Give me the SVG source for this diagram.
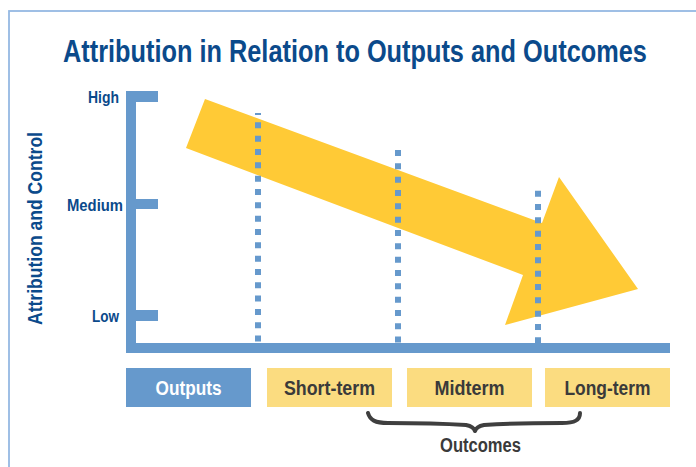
<svg xmlns="http://www.w3.org/2000/svg" width="696" height="467" viewBox="0 0 696 467">
  <style>
    .t { font-family: "Liberation Sans", Arial, sans-serif; font-weight: bold; }
    .blue { fill: #0b4a8b; }
    .dark { fill: #3a3a3a; }
    .bar { fill: #6699cc; }
    .dots { stroke: #6699cc; stroke-width: 6; stroke-dasharray: 6 7.33; fill: none; }
    .ybox { fill: #fbdc80; }
  </style>
  <rect x="0" y="0" width="696" height="467" fill="#ffffff"/>
  <rect id="frame" x="9" y="11" width="700" height="470" fill="none" stroke="#95b9e3" stroke-width="1.8"/>

  <g id="title" transform="translate(63,62) scale(0.72,1)">
    <text class="t blue" x="0" y="0" font-size="32" textLength="811" lengthAdjust="spacingAndGlyphs">Attribution in Relation to Outputs and Outcomes</text>
  </g>

  <g id="y-label">
    <text class="t blue" font-size="20" text-anchor="middle" transform="translate(41.5,228.5) rotate(-90)" textLength="193" lengthAdjust="spacingAndGlyphs">Attribution and Control</text>
  </g>

  <g id="axis">
    <rect class="bar" x="126" y="91" width="10" height="262"/>
    <rect class="bar" x="126" y="343" width="544" height="10"/>
    <rect class="bar" x="126" y="91" width="32" height="11"/>
    <rect class="bar" x="126" y="199" width="32" height="10"/>
    <rect class="bar" x="126" y="310" width="32" height="11"/>
    <text class="t blue" x="119" y="103" font-size="17" text-anchor="end" textLength="31" lengthAdjust="spacingAndGlyphs">High</text>
    <text class="t blue" x="123" y="211" font-size="17" text-anchor="end" textLength="56" lengthAdjust="spacingAndGlyphs">Medium</text>
    <text class="t blue" x="119" y="322" font-size="17" text-anchor="end" textLength="27" lengthAdjust="spacingAndGlyphs">Low</text>
  </g>

  <g id="arrow">
    <polygon points="205,99 542,223 559,177 638,289 505,325 523,275 186,148" fill="#ffca36"/>
  </g>

  <g id="connectors">
    <line class="dots" x1="258" y1="113" x2="258" y2="343" stroke-dashoffset="4"/>
    <line class="dots" x1="398" y1="150" x2="398" y2="343"/>
    <line class="dots" x1="538" y1="190.7" x2="538" y2="343"/>
  </g>

  <g id="outputs">
    <rect class="bar" x="126" y="368" width="125" height="39"/>
    <text class="t" fill="#ffffff" x="188.5" y="394.5" font-size="20" text-anchor="middle" textLength="66" lengthAdjust="spacingAndGlyphs">Outputs</text>
  </g>
  <g id="short-term">
    <rect class="ybox" x="267" y="368" width="125" height="39"/>
    <text class="t dark" x="329.5" y="394.5" font-size="20" text-anchor="middle" textLength="91" lengthAdjust="spacingAndGlyphs">Short-term</text>
  </g>
  <g id="midterm">
    <rect class="ybox" x="407" y="368" width="125" height="39"/>
    <text class="t dark" x="469.5" y="394.5" font-size="20" text-anchor="middle" textLength="70" lengthAdjust="spacingAndGlyphs">Midterm</text>
  </g>
  <g id="long-term">
    <rect class="ybox" x="545" y="368" width="125" height="39"/>
    <text class="t dark" x="607.5" y="394.5" font-size="20" text-anchor="middle" textLength="86" lengthAdjust="spacingAndGlyphs">Long-term</text>
  </g>

  <g id="outcomes">
    <path d="M368,413 C370,420 375,423 388,423 C420,423 450,424 466,425 C471,426 474,428 475,431 C476,428 479,426 484,425 C500,424 530,423 562,423 C575,423 580,420 580,413" fill="none" stroke="#3f3f3f" stroke-width="4" stroke-linecap="round" stroke-linejoin="round"/>
    <text class="t dark" x="480.5" y="452" font-size="20" text-anchor="middle" textLength="81" lengthAdjust="spacingAndGlyphs">Outcomes</text>
  </g>
</svg>
